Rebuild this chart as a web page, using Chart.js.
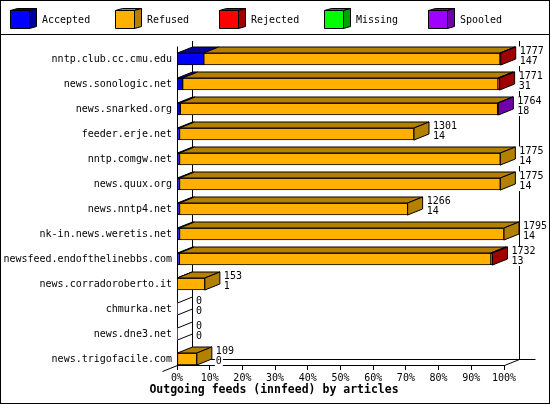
<!DOCTYPE html>
<html lang="en">
<head>
  <meta charset="UTF-8" />
  <title>Outgoing feeds (innfeed) by articles</title>
  <script src="https://cdn.jsdelivr.net/npm/chart.js"></script>
  <style>
    body { margin: 0; background: #fff; }
    canvas { display: block; }
  </style>
</head>
<body>
  <canvas id="feedsChart" width="550" height="405"></canvas>

  <script>
    // Feeds, top to bottom
    const hosts = [
      "nntp.club.cc.cmu.edu", "news.sonologic.net", "news.snarked.org", "feeder.erje.net",
      "nntp.comgw.net", "news.quux.org", "news.nntp4.net", "nk-in.news.weretis.net",
      "newsfeed.endofthelinebbs.com", "news.corradoroberto.it", "chmurka.net",
      "news.dne3.net", "news.trigofacile.com"
    ];
    // Numbers printed beside each bar
    const offered  = [1777, 1771, 1764, 1301, 1775, 1775, 1266, 1795, 1732, 153, 0, 0, 109];
    const accepted = [147, 31, 18, 14, 14, 14, 14, 14, 13, 1, 0, 0, 0];
    // Article counts per outcome
    const refused  = [1626, 1731, 1742, 1287, 1761, 1761, 1252, 1781, 1710, 152, 0, 0, 109];
    const rejected = [4, 9, 0, 0, 0, 0, 0, 0, 9, 0, 0, 0, 0];
    const missing  = [0, 0, 0, 0, 0, 0, 0, 0, 0, 0, 0, 0, 0];
    const spooled  = [0, 0, 4, 0, 0, 0, 0, 0, 0, 0, 0, 0, 0];

    const seriesNames = ["Accepted", "Refused", "Rejected", "Missing", "Spooled"];
    const xTickLabels = ["0%", "10%", "20%", "30%", "40%", "50%", "60%", "70%", "80%", "90%", "100%"];
    const titleText = "Outgoing feeds (innfeed) by articles";
    const maxOffered = Math.max(...offered);

    const frontColors = ["#0000ff", "#ffb000", "#ff0000", "#00ff00", "#a000ff"];
    const sideColors  = ["#0000a0", "#b38000", "#a00000", "#00a000", "#7000a8"];
    const DX = 15, DY = 6;
    const FONT = '"DejaVu Sans Mono", monospace';

    Chart.defaults.font.family = FONT;
    Chart.defaults.font.size = 10;
    Chart.defaults.color = "#000";

    function line(c, x1, y1, x2, y2) {
      c.beginPath();
      c.moveTo(x1, y1);
      c.lineTo(x2, y2);
      c.stroke();
    }
    function poly(c, pts, fill) {
      c.beginPath();
      c.moveTo(pts[0][0], pts[0][1]);
      for (let k = 1; k < pts.length; k++) c.lineTo(pts[k][0], pts[k][1]);
      c.closePath();
      c.fillStyle = fill;
      c.fill();
      c.stroke();
    }

    const bars3d = {
      id: "bars3d",
      beforeDraw(chart) {
        const c = chart.ctx;
        c.save();
        c.fillStyle = "#fff";
        c.fillRect(0, 0, chart.width, chart.height);
        c.restore();
      },
      beforeDatasetsDraw(chart) {
        const c = chart.ctx, xs = chart.scales.x, ys = chart.scales.y;
        const x0 = Math.round(xs.getPixelForValue(0)) + 0.5;
        const x1 = Math.round(xs.getPixelForValue(maxOffered)) + 0.5;
        const top = Math.round(ys.getPixelForValue(-0.72));
        const bottom = chart.chartArea.bottom + 0.5;
        c.save();
        c.strokeStyle = "#000";
        c.lineWidth = 1;
        // back walls and floor
        line(c, x0 + DX, top, x0 + DX, bottom - DY);
        line(c, x1 + DX, top, x1 + DX, bottom - DY);
        line(c, x0 + DX, bottom - DY, x1 + DX + 16, bottom - DY);
        line(c, x0 - DX, bottom + DY, x0 + DX, bottom - DY);
        line(c, x1, bottom, x1 + DX, bottom - DY);
        // front vertical axis
        line(c, x0, chart.chartArea.top, x0, bottom);
        // empty rows still show their depth edges
        hosts.forEach((h, i) => {
          if (offered[i] > 0) return;
          const cy = ys.getPixelForValue(i);
          line(c, x0, cy - 6, x0 + DX, cy - 6 - DY);
          line(c, x0, cy + 6, x0 + DX, cy + 6 - DY);
        });
        c.restore();
      },
      afterDatasetsDraw(chart) {
        const c = chart.ctx, xs = chart.scales.x, ys = chart.scales.y;
        const x0 = xs.getPixelForValue(0);
        c.save();
        c.strokeStyle = "#000";
        c.lineWidth = 1;
        hosts.forEach((h, i) => {
          let last = null, lastSeries = -1;
          chart.data.datasets.forEach((ds, s) => {
            const el = chart.getDatasetMeta(s).data[i];
            if (!el || ds.data[i].x <= 0) return;
            const t = el.y - el.height / 2;
            poly(c, [[el.base, t], [el.base + DX, t - DY], [el.x + DX, t - DY], [el.x, t]], sideColors[s]);
            last = el;
            lastSeries = s;
          });
          let end = x0;
          if (last) {
            const t = last.y - last.height / 2, b = last.y + last.height / 2;
            poly(c, [[last.x, t], [last.x + DX, t - DY], [last.x + DX, b - DY], [last.x, b]], sideColors[lastSeries]);
            end = last.x;
          }
          // two numbers beside the bar
          const cy = ys.getPixelForValue(i);
          const tx = end + DX + 4;
          c.font = "10px " + FONT;
          c.textAlign = "left";
          c.textBaseline = "middle";
          [[String(offered[i]), cy - 7.5], [String(accepted[i]), cy + 2]].forEach(([txt, ty]) => {
            const w = c.measureText(txt).width;
            c.fillStyle = "#fff";
            c.fillRect(tx - 1, ty - 5, w + 2, 10);
            c.fillStyle = "#000";
            c.fillText(txt, tx, ty);
          });
        });
        c.restore();
      },
      afterDraw(chart) {
        const c = chart.ctx;
        c.save();
        c.strokeStyle = "#000";
        c.lineWidth = 1;
        // legend with little cubes
        seriesNames.forEach((name, s) => {
          const lx = Math.round(10 + s * 104.5) + 0.5;
          poly(c, [[lx, 10.5], [lx + 19, 10.5], [lx + 19, 28.5], [lx, 28.5]], frontColors[s]);
          poly(c, [[lx, 10.5], [lx + 7, 8.5], [lx + 26, 8.5], [lx + 19, 10.5]], sideColors[s]);
          poly(c, [[lx + 19, 10.5], [lx + 26, 8.5], [lx + 26, 26.5], [lx + 19, 28.5]], sideColors[s]);
          c.fillStyle = "#000";
          c.font = "10px " + FONT;
          c.textAlign = "left";
          c.textBaseline = "middle";
          c.fillText(name, lx + 31.5, 20);
        });
        line(c, 0, 34.5, chart.width, 34.5);
        c.strokeRect(0.5, 0.5, 549, 403);
        // title under the axis
        c.fillStyle = "#000";
        c.font = "bold 11.5px " + FONT;
        c.textAlign = "center";
        c.textBaseline = "middle";
        c.fillText(titleText, 274, 390);
        c.restore();
      }
    };

    const seriesValues = [accepted, refused, rejected, missing, spooled];

    new Chart(document.getElementById("feedsChart"), {
      type: "bar",
      data: {
        datasets: seriesValues.map((vals, s) => ({
          label: seriesNames[s],
          data: vals.map((v, i) => ({ x: v, y: i })),
          backgroundColor: frontColors[s],
          borderColor: "#000",
          borderWidth: ctx => (ctx.raw && ctx.raw.x > 0 ? 1 : 0),
          borderSkipped: false,
          barThickness: 12
        }))
      },
      options: {
        responsive: false,
        animation: false,
        devicePixelRatio: 1,
        indexAxis: "y",
        layout: { padding: { top: 46.5, right: 46, bottom: 22, left: 0 } },
        plugins: {
          legend: { display: false },
          title: { display: false },
          tooltip: { enabled: false }
        },
        scales: {
          x: {
            type: "linear",
            stacked: true,
            min: 0,
            max: maxOffered,
            afterBuildTicks: s => { s.ticks = xTickLabels.map((t, k) => ({ value: maxOffered * k / 10 })); },
            afterFit: s => { s.height = 18; },
            grid: { drawOnChartArea: false, tickLength: 5, color: "#000" },
            border: { color: "#000" },
            ticks: { callback: (v, k) => xTickLabels[k], padding: 2, maxRotation: 0, autoSkip: false }
          },
          y: {
            type: "linear",
            reverse: true,
            stacked: true,
            offset: false,
            min: -0.5,
            max: 12.24,
            afterBuildTicks: s => { s.ticks = hosts.map((h, k) => ({ value: k })); },
            afterFit: s => { s.width = 177; },
            grid: { display: false, drawTicks: false, offset: false },
            border: { display: false },
            ticks: { callback: (v, k) => hosts[k], padding: 5, autoSkip: false }
          }
        }
      },
      plugins: [bars3d]
    });
  </script>
</body>
</html>
